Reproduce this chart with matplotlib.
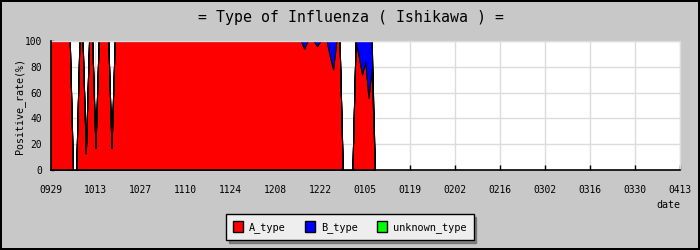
import numpy as np
import matplotlib
matplotlib.use("Agg")
import matplotlib.pyplot as plt
from matplotlib.patches import Patch

# ---- data (daily, starting 0929) ----
a_type = [
    100, 100, 100, 100, 100, 100, 100, 0, 0, 100,
    100, 13, 100, 100, 17, 100, 100, 100, 100, 17,
    100, 100, 100, 100, 100, 100, 100, 100, 100, 100,
    100, 100, 100, 100, 100, 100, 100, 100, 100, 100,
    100, 100, 100, 100, 100, 100, 100, 100, 100, 100,
    100, 100, 100, 100, 100, 100, 100, 100, 100, 100,
    100, 100, 100, 100, 100, 100, 100, 100, 100, 100,
    100, 100, 100, 100, 100, 100, 100, 100, 100, 94,
    100, 100, 100, 96, 100, 100, 100, 88, 78, 100,
    100, 0, 0, 0, 0, 100, 88, 74, 84, 56,
    78, 0,
]
b_type = [
    0, 0, 0, 0, 0, 0, 0, 0, 0, 0,
    0, 0, 0, 0, 0, 0, 0, 0, 0, 0,
    0, 0, 0, 0, 0, 0, 0, 0, 0, 0,
    0, 0, 0, 0, 0, 0, 0, 0, 0, 0,
    0, 0, 0, 0, 0, 0, 0, 0, 0, 0,
    0, 0, 0, 0, 0, 0, 0, 0, 0, 0,
    0, 0, 0, 0, 0, 0, 0, 0, 0, 0,
    0, 0, 0, 0, 0, 0, 0, 0, 0, 6,
    0, 0, 0, 4, 0, 0, 0, 12, 22, 0,
    0, 0, 0, 0, 0, 0, 12, 26, 16, 44,
    22, 0,
]
unknown_type = [0] * len(a_type)

tick_labels = ["0929", "1013", "1027", "1110", "1124", "1208", "1222", "0105",
               "0119", "0202", "0216", "0302", "0316", "0330", "0413"]
tick_step_days = 14
series_names = ["A_type", "B_type", "unknown_type"]
series_colors = ["#ff0000", "#0000ff", "#00ff00"]

# ---- figure ----
BG = "#c8c8c8"
MONO = "DejaVu Sans Mono"
plt.rcParams["font.family"] = MONO

fig = plt.figure(figsize=(7, 2.5), dpi=100, facecolor=BG, edgecolor="black", linewidth=1.5)
ax = fig.add_axes([50.5 / 700, 80 / 250, (680 - 50.5) / 700, (170 - 41) / 250])
ax.set_facecolor("white")

days = np.arange(len(a_type))
polys = ax.stackplot(days, a_type, b_type, unknown_type, colors=series_colors,
                     edgecolor="black", linewidth=0.75, zorder=2)
for p in polys:
    p.set_antialiased(False)

xt = np.arange(len(tick_labels)) * tick_step_days
ax.set_xlim(xt[0], xt[-1])
ax.set_ylim(0, 100)
ax.set_xticks(xt)
ax.set_xticklabels(tick_labels)
ax.set_yticks([0, 20, 40, 60, 80, 100])
ax.set_yticks([10, 30, 50, 70, 90], minor=True)

ax.grid(True, which="major", color="#dcdcdc", linewidth=1, zorder=0)
ax.set_axisbelow(True)

ax.tick_params(axis="x", which="major", direction="in", length=3.6, width=1,
               pad=11, labelsize=6.9, colors="black", top=False)
ax.tick_params(axis="y", which="major", direction="in", length=2.5, width=1,
               pad=6, labelsize=6.9, right=False)
ax.tick_params(axis="y", which="minor", direction="in", length=2.5, width=1, right=False)

for s in ["left", "bottom"]:
    ax.spines[s].set_color("black")
    ax.spines[s].set_linewidth(1.2)
    ax.spines[s].set_zorder(5)
for s in ["top", "right"]:
    ax.spines[s].set_color("#dcdcdc")
    ax.spines[s].set_linewidth(1)

ax.set_ylabel("Positive_rate(%)", fontsize=7.2, labelpad=0)
fig.text(680 / 700, 1 - 205 / 250, "date", ha="right", va="center", fontsize=7.2)

fig.text(351 / 700, 1 - 17 / 250, "= Type of Influenza ( Ishikawa ) =",
         ha="center", va="center", fontsize=10.7)

handles = [Patch(facecolor=c, edgecolor="black", linewidth=1.0) for c in series_colors]
leg = fig.legend(handles, series_names, loc="center", bbox_to_anchor=(350 / 700, 1 - 227 / 250),
                 ncol=3, fontsize=7.4, frameon=True, fancybox=False, shadow=True,
                 handlelength=0.95, handleheight=1.35, handletextpad=0.6, columnspacing=1.9,
                 borderpad=0.65, borderaxespad=0)
leg.get_frame().set_facecolor("#eeeeee")
leg.get_frame().set_edgecolor("black")
leg.get_frame().set_linewidth(1)
leg.get_frame().set_alpha(1)

fig.savefig("out.png", dpi=100, facecolor=fig.get_facecolor(), edgecolor=fig.get_edgecolor())
